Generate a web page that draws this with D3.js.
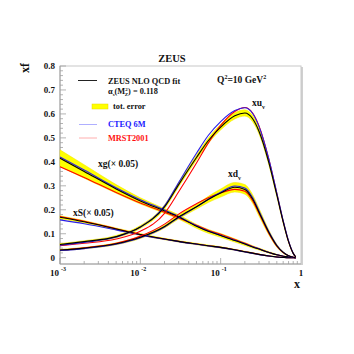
<!DOCTYPE html>
<html>
<head>
<meta charset="utf-8">
<script src="https://cdn.jsdelivr.net/npm/d3@7"></script>
<style>
  html, body { margin: 0; padding: 0; background: #fff; }
  svg text { font-family: "Liberation Serif", "Times New Roman", serif; font-weight: bold; }
</style>
</head>
<body>
<div id="chart"></div>
<script>
/* ZEUS NLO QCD fit, Q^2 = 10 GeV^2 : valence, gluon and sea distributions */

// x grid shared by every curve
var xs = [0.001, 0.002, 0.005, 0.01, 0.02, 0.03, 0.05, 0.07, 0.1, 0.15, 0.2, 0.25, 0.3, 0.4, 0.5, 0.6, 0.7, 0.8, 0.86];

// xu_v
var xuvFit  = [0.055, 0.067, 0.088, 0.128, 0.212, 0.305, 0.418, 0.488, 0.545, 0.592, 0.604, 0.580, 0.528, 0.394, 0.262, 0.150, 0.067, 0.018, 0.003];
var xuvErr  = [0.004, 0.004, 0.005, 0.006, 0.008, 0.009, 0.010, 0.011, 0.012, 0.013, 0.013, 0.013, 0.012, 0.010, 0.008, 0.006, 0.004, 0.002, 0.001];
var xuvCteq = [0.052, 0.064, 0.086, 0.128, 0.216, 0.314, 0.436, 0.510, 0.568, 0.614, 0.626, 0.602, 0.548, 0.408, 0.270, 0.155, 0.070, 0.019, 0.003];
var xuvMrst = [0.050, 0.060, 0.078, 0.110, 0.185, 0.275, 0.395, 0.478, 0.552, 0.610, 0.627, 0.604, 0.550, 0.408, 0.268, 0.152, 0.068, 0.018, 0.003];

// xd_v
var xdvFit  = [0.032, 0.040, 0.058, 0.085, 0.130, 0.170, 0.213, 0.243, 0.270, 0.294, 0.285, 0.245, 0.190, 0.104, 0.050, 0.022, 0.008, 0.002, 0.000];
var xdvErr  = [0.003, 0.003, 0.004, 0.005, 0.006, 0.008, 0.010, 0.013, 0.017, 0.020, 0.020, 0.018, 0.016, 0.010, 0.006, 0.003, 0.002, 0.001, 0.000];
var xdvCteq = [0.030, 0.038, 0.056, 0.083, 0.128, 0.168, 0.212, 0.244, 0.273, 0.299, 0.291, 0.251, 0.195, 0.107, 0.052, 0.023, 0.008, 0.002, 0.000];
var xdvMrst = [0.031, 0.041, 0.060, 0.090, 0.140, 0.182, 0.225, 0.250, 0.270, 0.285, 0.277, 0.238, 0.185, 0.100, 0.048, 0.021, 0.008, 0.002, 0.000];

// xg (x 0.05)
var xgFit  = [0.415, 0.360, 0.287, 0.237, 0.195, 0.170, 0.131, 0.110, 0.093, 0.072, 0.057, 0.045, 0.036, 0.022, 0.012, 0.006, 0.003, 0.001, 0.000];
var xgErr  = [0.035, 0.028, 0.018, 0.013, 0.010, 0.009, 0.008, 0.008, 0.008, 0.007, 0.006, 0.005, 0.004, 0.003, 0.002, 0.001, 0.001, 0.000, 0.000];
var xgCteq = [0.420, 0.366, 0.292, 0.242, 0.199, 0.172, 0.133, 0.111, 0.094, 0.073, 0.058, 0.046, 0.037, 0.022, 0.012, 0.006, 0.003, 0.001, 0.000];
var xgMrst = [0.380, 0.335, 0.272, 0.228, 0.190, 0.166, 0.135, 0.115, 0.098, 0.076, 0.060, 0.047, 0.037, 0.022, 0.012, 0.006, 0.003, 0.001, 0.000];

// xS (x 0.05)
var xsFit  = [0.169, 0.150, 0.120, 0.097, 0.078, 0.068, 0.057, 0.050, 0.043, 0.033, 0.025, 0.019, 0.014, 0.007, 0.003, 0.001, 0.000, 0.000, 0.000];
var xsErr  = [0.006, 0.005, 0.004, 0.004, 0.003, 0.003, 0.003, 0.003, 0.003, 0.002, 0.002, 0.002, 0.001, 0.001, 0.001, 0.000, 0.000, 0.000, 0.000];
var xsCteq = [0.158, 0.142, 0.116, 0.095, 0.077, 0.067, 0.056, 0.049, 0.042, 0.032, 0.024, 0.018, 0.013, 0.007, 0.003, 0.001, 0.000, 0.000, 0.000];
var xsMrst = [0.172, 0.152, 0.121, 0.097, 0.078, 0.068, 0.057, 0.050, 0.043, 0.033, 0.025, 0.019, 0.014, 0.007, 0.003, 0.001, 0.000, 0.000, 0.000];

var yTicks = [0, 0.1, 0.2, 0.3, 0.4, 0.5, 0.6, 0.7, 0.8];
var xTicks = [{v: 0.001, base: '10', exp: '-3'}, {v: 0.01, base: '10', exp: '-2'},
              {v: 0.1, base: '10', exp: '-1'}, {v: 1, base: '1', exp: ''}];

var W = 354, H = 354;
var L = 60, R = 301, T = 66;
var Bframe = 264;

var svg = d3.select('#chart').append('svg')
  .attr('width', W).attr('height', H);

var x = d3.scaleLog().domain([0.001, 1]).range([L, R]);
var y = d3.scaleLinear().domain([0, 0.8]).range([257.7, T]);

/* frame */
svg.append('rect').attr('x', R).attr('y', T + 1).attr('width', 2).attr('height', Bframe - T)
  .attr('fill', '#d0d0d0');
svg.append('rect').attr('x', L).attr('y', T).attr('width', R - L).attr('height', Bframe - T)
  .attr('fill', 'none').attr('stroke', '#c8c8c8').attr('stroke-width', 1);
svg.append('line').attr('x1', L).attr('x2', L).attr('y1', T).attr('y2', Bframe)
  .attr('stroke', '#a0a0a0');
svg.append('line').attr('x1', L).attr('x2', R).attr('y1', Bframe).attr('y2', Bframe)
  .attr('stroke', '#a0a0a0');

/* y ticks (inward), minor every 0.02 */
var g = svg.append('g').attr('stroke', '#a0a0a0').attr('stroke-width', 0.8);
d3.range(0, 0.801, 0.02).forEach(function (v) {
  var major = Math.abs(v * 10 - Math.round(v * 10)) < 1e-6;
  g.append('line').attr('x1', L).attr('x2', L + (major ? 6 : 3))
    .attr('y1', y(v)).attr('y2', y(v));
});
/* x ticks (upward), decades + 2..9 */
[0.001, 0.01, 0.1].forEach(function (d) {
  for (var k = 1; k <= 9; k++) {
    var v = d * k;
    g.append('line').attr('x1', x(v)).attr('x2', x(v))
      .attr('y1', Bframe).attr('y2', Bframe - (k === 1 ? 6 : 3));
  }
});

/* tick labels */
yTicks.forEach(function (v) {
  svg.append('text').attr('x', 55).attr('y', y(v) + 3)
    .attr('text-anchor', 'end').attr('font-size', 9).attr('fill', '#111')
    .text(d3.format('.1f')(v).replace(/^0\.0$/, '0'));
});
xTicks.forEach(function (t) {
  var t0 = svg.append('text').attr('x', x(t.v) - (t.exp ? 2 : 0)).attr('y', 276)
    .attr('text-anchor', 'middle').attr('font-size', 9).attr('fill', '#111');
  t0.append('tspan').text(t.base);
  if (t.exp) t0.append('tspan').attr('dx', 2).attr('dy', -5).attr('font-size', 6).text(t.exp);
});

/* axis titles */
svg.append('text').attr('x', 297).attr('y', 288).attr('text-anchor', 'middle')
  .attr('font-size', 12).attr('fill', '#111').text('x');
svg.append('text').attr('transform', 'translate(29,68) rotate(-90)')
  .attr('text-anchor', 'middle').attr('font-size', 12).attr('fill', '#111').text('xf');
svg.append('text').attr('x', 172).attr('y', 62).attr('text-anchor', 'middle')
  .attr('font-size', 10.5).attr('fill', '#111').text('ZEUS');

/* curves */
var plot = svg.append('g');
var line = d3.line().x(function (d) { return x(d[0]); }).y(function (d) { return y(d[1]); })
  .curve(d3.curveMonotoneX);
var area = d3.area().x(function (d) { return x(d[0]); })
  .y0(function (d) { return y(Math.max(0, d[1] - d[2])); })
  .y1(function (d) { return y(d[1] + d[2]); })
  .curve(d3.curveMonotoneX);

function pts(vals) { return xs.map(function (v, i) { return [v, vals[i]]; }); }
function band(vals, errs) { return xs.map(function (v, i) { return [v, vals[i], errs[i]]; }); }

var sets = [
  [xgFit, xgErr, xgCteq, xgMrst],
  [xsFit, xsErr, xsCteq, xsMrst],
  [xdvFit, xdvErr, xdvCteq, xdvMrst],
  [xuvFit, xuvErr, xuvCteq, xuvMrst]
];
sets.forEach(function (s) {
  plot.append('path').attr('d', area(band(s[0], s[1])))
    .attr('fill', '#ffff00').attr('stroke', '#f0e000').attr('stroke-width', 0.5);
});
sets.forEach(function (s) {
  plot.append('path').attr('d', line(pts(s[3])))
    .attr('fill', 'none').attr('stroke', '#ff0000').attr('stroke-width', 1.1);
  plot.append('path').attr('d', line(pts(s[2])))
    .attr('fill', 'none').attr('stroke', '#2a1ee8').attr('stroke-width', 1.1);
  plot.append('path').attr('d', line(pts(s[0])))
    .attr('fill', 'none').attr('stroke', '#000').attr('stroke-width', 1.1);
});

/* curve labels */
function label(xp, yp, main, sub) {
  var t = svg.append('text').attr('x', xp).attr('y', yp).attr('font-size', 9.5).attr('fill', '#111');
  t.append('tspan').text(main);
  if (sub) t.append('tspan').attr('dy', 3).attr('font-size', 6).text(sub);
  return t;
}
label(252, 106, 'xu', 'v');
label(228, 177, 'xd', 'v');
label(98, 167, 'xg(\u00d7 0.05)');
label(73, 215.5, 'xS(\u00d7 0.05)');

/* Q^2 label */
var q = svg.append('text').attr('x', 217).attr('y', 83).attr('font-size', 9.5).attr('fill', '#111');
q.append('tspan').text('Q');
q.append('tspan').attr('dy', -4).attr('font-size', 6).text('2');
q.append('tspan').attr('dy', 4).text('=10 GeV');
q.append('tspan').attr('dy', -4).attr('font-size', 6).text('2');

/* legend */
var lg = svg.append('g');
lg.append('line').attr('x1', 78).attr('x2', 97).attr('y1', 80.5).attr('y2', 80.5)
  .attr('stroke', '#222').attr('stroke-width', 1);
lg.append('text').attr('x', 108).attr('y', 83.5).attr('font-size', 8.3).attr('fill', '#111')
  .text('ZEUS NLO QCD fit');
var a = lg.append('text').attr('x', 108).attr('y', 93.5).attr('font-size', 8.3).attr('fill', '#111');
a.append('tspan').text('\u03b1');
a.append('tspan').attr('dy', 2).attr('font-size', 5).text('s');
a.append('tspan').attr('dy', -2).text('(M');
a.append('tspan').attr('dy', -3).attr('font-size', 5).text('2');
a.append('tspan').attr('dx', -3).attr('dy', 5.5).attr('font-size', 5).text('Z');
a.append('tspan').attr('dy', -2.5).text(') = 0.118');
lg.append('rect').attr('x', 92).attr('y', 104).attr('width', 16).attr('height', 5)
  .attr('fill', '#ffff00').attr('stroke', '#e6d800').attr('stroke-width', 0.5);
lg.append('text').attr('x', 113).attr('y', 109).attr('font-size', 8.3).attr('fill', '#111')
  .text('tot. error');
lg.append('line').attr('x1', 79).attr('x2', 97).attr('y1', 124.5).attr('y2', 124.5)
  .attr('stroke', '#9a9aff').attr('stroke-width', 0.8);
lg.append('text').attr('x', 108).attr('y', 127.3).attr('font-size', 8.3).attr('fill', '#2020ff')
  .text('CTEQ 6M');
lg.append('line').attr('x1', 79).attr('x2', 97).attr('y1', 138).attr('y2', 138)
  .attr('stroke', '#ff9a9a').attr('stroke-width', 0.8);
lg.append('text').attr('x', 108).attr('y', 140.8).attr('font-size', 8.3).attr('fill', '#ff1010')
  .text('MRST2001');
</script>
</body>
</html>
